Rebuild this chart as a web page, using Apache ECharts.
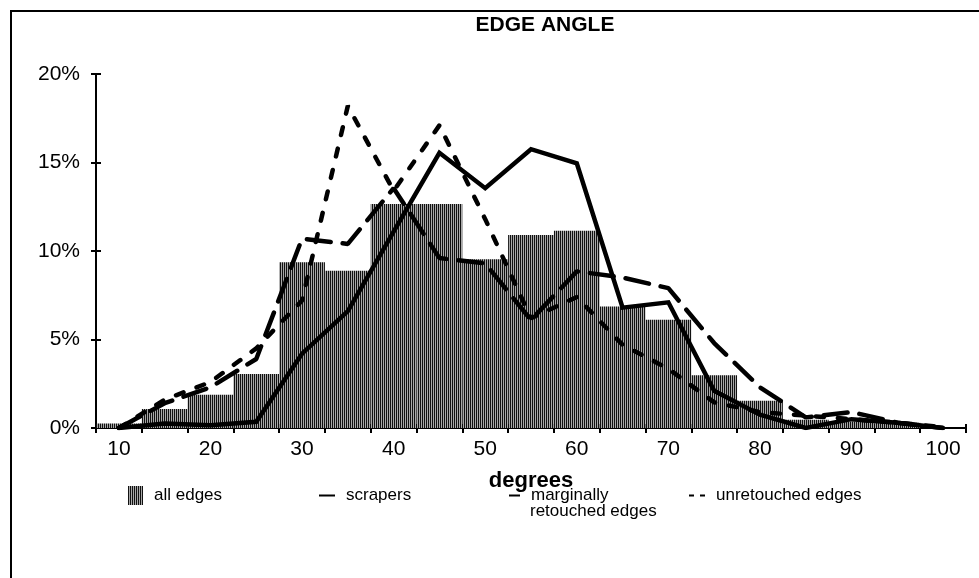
<!DOCTYPE html>
<html><head><meta charset="utf-8">
<script src="https://cdn.jsdelivr.net/npm/echarts@6/dist/echarts.min.js"></script>
<style>html,body{margin:0;padding:0;background:#fff}#c{width:979px;height:578px}</style>
</head><body><div id="c"></div>
<script>
// ---- data (percent of edges per 5-degree class) ----
const categories = ['10','15','20','25','30','35','40','45','50','55','60','65','70','75','80','85','90','95','100'];
const allEdges    = [0.25, 1.07, 1.88, 3.05, 9.37, 8.88, 12.66, 12.66, 9.54, 10.9, 11.15, 6.86, 6.11, 2.98, 1.54, 0.47, 0.37, 0.3, 0];
const scrapers    = [0, 0.25, 0.15, 0.35, 4.2, 6.6, 11.1, 15.55, 13.55, 15.75, 14.95, 6.8, 7.1, 2.1, 0.75, 0, 0.5, 0.3, 0];
const marginally  = [0, 1.4, 2.3, 3.9, 10.7, 10.4, 13.55, 9.6, 9.3, 6.1, 8.85, 8.5, 7.9, 4.8, 2.3, 0.6, 0.9, 0.3, 0];
const unretouched = [0, 1.6, 2.6, 4.5, 7.2, 18.2, 13.4, 17.1, 11.8, 6.2, 7.4, 4.7, 3.35, 1.45, 0.9, 0.7, 0.5, 0.3, 0.05];
const yTickLabels = ['0%','5%','10%','15%','20%'];
const seriesNames = ['all edges','scrapers','marginally retouched edges','unretouched edges'];

const FONT = '"Liberation Sans", Arial, Helvetica, sans-serif';
const pc = document.createElement('canvas'); pc.width = 2; pc.height = 4;
const g = pc.getContext('2d');
g.fillStyle = '#a8a8a8'; g.fillRect(0,0,2,4);
g.fillStyle = '#111'; g.fillRect(0,0,1,4);
const hatch = { image: pc, repeat: 'repeat' };

const chart = echarts.init(document.getElementById('c'), null, {renderer:'canvas'});
const txt = { color:'#000', fontFamily: FONT };
const legendBase = { orient:'horizontal', itemGap: 0, textStyle: Object.assign({fontSize:17, padding:[0,0,0,6]}, txt), selectedMode:false };

chart.setOption({
  animation: false,
  backgroundColor: '#fff',
  title: { text: 'EDGE ANGLE', left: 540, top: 10, textAlign: 'center',
    textStyle: Object.assign({fontSize: 21, fontWeight: 'bold'}, txt) },
  grid: { left: 96, right: 13, top: 74, bottom: 150, containLabel: false },
  xAxis: [{
    type: 'category', data: categories, boundaryGap: true,
    name: 'degrees', nameLocation: 'middle', nameGap: 42,
    nameTextStyle: Object.assign({fontSize: 22, fontWeight:'bold'}, txt),
    axisLine: { lineStyle: { color:'#000', width: 2 } },
    axisTick: { show: true, interval: 0, length: 5, lineStyle:{color:'#000', width:2} },
    axisLabel: Object.assign({ interval: 1, fontSize: 21, margin: 11 }, txt),
    splitLine: { show: false }
  },{
    type: 'category', data: categories, boundaryGap: true, position:'bottom',
    axisLine: { show:false },
    axisTick: { show: true, inside: true, interval: 0, length: 4, lineStyle:{color:'#000', width:2} },
    axisLabel: { show:false }, splitLine:{show:false}
  }],
  yAxis: [{
    type: 'value', min: 0, max: 20, interval: 5,
    axisLine: { show: true, lineStyle: { color:'#000', width: 2 } },
    axisTick: { show: true, length: 5, lineStyle:{color:'#000', width:2} },
    axisLabel: Object.assign({ fontSize: 21, margin: 16, formatter: v => yTickLabels[v/5] }, txt),
    splitLine: { show: false }
  },{
    type: 'value', min: 0, max: 20, interval: 5, position:'left',
    axisLine: { show:false },
    axisTick: { show: true, inside:true, length: 5, lineStyle:{color:'#000', width:2} },
    axisLabel: { show:false }, splitLine:{show:false}
  }],
  legend: [
    Object.assign({}, legendBase, { left: 123, top: 481, itemWidth: 15, itemHeight: 19,
      data: [{ name: seriesNames[0], icon: 'rect' }] }),
    Object.assign({}, legendBase, { left: 314, top: 482, itemWidth: 16, itemHeight: 2,
      data: [{ name: seriesNames[1], icon: 'rect' }] }),
    Object.assign({}, legendBase, { left: 504, top: 482, itemWidth: 11, itemHeight: 2,
      formatter: () => 'marginally',
      data: [{ name: seriesNames[2], icon: 'rect' }] }),
    Object.assign({}, legendBase, { left: 684, top: 482, itemWidth: 16, itemHeight: 2,
      data: [{ name: seriesNames[3], icon: 'path://M0,0h5v2h-5z M11,0h5v2h-5z' }] })
  ],
  graphic: [
    { type:'rect', silent:true, z:-10, shape:{ x:11, y:11, width:1200, height:1200 },
      style:{ fill:'none', stroke:'#000', lineWidth:2 } },
    { type:'text', silent:true, left: 530, top: 503,
      style:{ text:'retouched edges', fill:'#000', font: '17px ' + FONT } }
  ],
  series: [
    { name: seriesNames[0], type:'bar', data: allEdges, barCategoryGap:'0%', barGap:'0%',
      itemStyle:{ color: hatch }, z: 1, silent: true },
    { name: seriesNames[1], type:'line', data: scrapers, symbol:'none', z: 5,
      lineStyle:{ color:'#000', width:4.5, type:'solid', join:'miter' }, itemStyle:{color:'#000'} },
    { name: seriesNames[2], type:'line', data: marginally, symbol:'none', z: 4,
      lineStyle:{ color:'#000', width:4.5, type:[24,12], cap:'round' }, itemStyle:{color:'#000'} },
    { name: seriesNames[3], type:'line', data: unretouched, symbol:'none', z: 4,
      lineStyle:{ color:'#000', width:4.5, type:[8,14], cap:'round' }, itemStyle:{color:'#000'} }
  ]
});
</script></body></html>
